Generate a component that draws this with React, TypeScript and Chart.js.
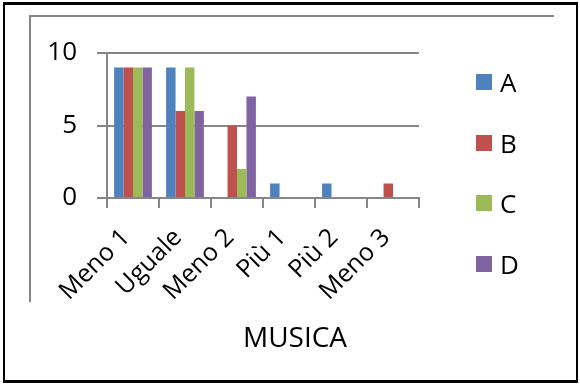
import { useEffect, useRef } from 'react';
import { Chart, registerables } from 'chart.js';

Chart.register(...registerables);

const categories = ['Meno 1', 'Uguale', 'Meno 2', 'Più 1', 'Più 2', 'Meno 3'];
const seriesNames = ['A', 'B', 'C', 'D'];
const seriesA = [9, 9, 0, 1, 1, 0];
const seriesB = [9, 6, 5, 0, 0, 1];
const seriesC = [9, 9, 2, 0, 0, 0];
const seriesD = [9, 6, 7, 0, 0, 0];
const seriesColors = ['#4F81BD', '#C0504D', '#9BBB59', '#8064A2'];
const yMin = 0;
const yMax = 10;
const yStep = 5;
const chartTitle = 'MUSICA';

const FONT = '"Open Sans", sans-serif';
const GRAY = '#868686';

const sideLegend = {
  id: 'sideLegend',
  afterDraw(chart: any) {
    const { ctx, chartArea } = chart;
    ctx.save();
    ctx.font = `26px ${FONT}`;
    ctx.textBaseline = 'middle';
    ctx.textAlign = 'left';
    chart.data.datasets.forEach((ds: any, i: number) => {
      const cy = chartArea.top + 29 + i * 60.5;
      const bx = chartArea.right + 57;
      ctx.fillStyle = ds.backgroundColor;
      ctx.fillRect(bx, Math.round(cy - 8), 16, 16);
      ctx.fillStyle = '#000';
      ctx.fillText(ds.label, bx + 24, cy + 3);
    });
    ctx.restore();
  },
};

export default function App() {
  const ref = useRef<HTMLCanvasElement | null>(null);

  useEffect(() => {
    if (!ref.current) return;
    const values = [seriesA, seriesB, seriesC, seriesD];
    const chart = new Chart(ref.current, {
      type: 'bar',
      data: {
        labels: categories,
        datasets: seriesNames.map((name, i) => ({
          label: name,
          data: values[i],
          backgroundColor: seriesColors[i],
          borderWidth: 0,
          categoryPercentage: 0.727,
          barPercentage: 1,
        })),
      },
      options: {
        animation: false,
        responsive: false,
        devicePixelRatio: 1,
        layout: { padding: { left: 10, right: 0, top: 53, bottom: 30.4 } },
        plugins: {
          legend: { display: false },
          tooltip: { enabled: false },
          title: {
            display: true,
            text: chartTitle,
            position: 'bottom',
            color: '#000',
            font: { family: FONT, size: 28, weight: 'normal', lineHeight: 1.2 },
            padding: { top: 14, bottom: 0 },
          },
        },
        scales: {
          x: {
            grid: {
              display: true,
              drawOnChartArea: false,
              drawTicks: true,
              tickLength: 10,
              color: GRAY,
              lineWidth: 2,
              offset: true,
            },
            border: { display: true, color: GRAY, width: 2 },
            ticks: {
              autoSkip: false,
              minRotation: 45,
              maxRotation: 45,
              padding: 15,
              labelOffset: -7,
              color: '#000',
              font: { family: FONT, size: 25, lineHeight: 1.2 },
            },
            afterFit: (scale: any) => {
              scale.height = 110;
              scale.paddingRight = 161;
              scale.paddingLeft = 0;
            },
          },
          y: {
            min: yMin,
            max: yMax,
            grid: {
              color: GRAY,
              lineWidth: 2,
              drawTicks: true,
              tickLength: 10,
            },
            border: { display: true, color: GRAY, width: 2 },
            ticks: {
              stepSize: yStep,
              padding: 20,
              color: '#000',
              font: { family: FONT, size: 26 },
            },
            afterFit: (scale: any) => {
              scale.width = 97;
            },
          },
        },
      },
      plugins: [sideLegend],
    });
    return () => chart.destroy();
  }, []);

  return (
    <div style={{ position: 'absolute', left: 0, top: 0, width: 580, height: 386, background: '#fff', overflow: 'hidden' }}>
      <div style={{ position: 'absolute', left: 3, top: 2, width: 575, height: 381, boxSizing: 'border-box', borderStyle: 'solid', borderColor: '#000', borderWidth: '3px 2px 3px 2px' }} />
      <div style={{ position: 'absolute', left: 29, top: 15, width: 525, height: 2, background: GRAY }} />
      <div style={{ position: 'absolute', left: 29, top: 15, width: 2, height: 287, background: GRAY }} />
      <canvas ref={ref} width={580} height={386} style={{ position: 'absolute', left: 0, top: 0, width: 580, height: 386 }} />
    </div>
  );
}
